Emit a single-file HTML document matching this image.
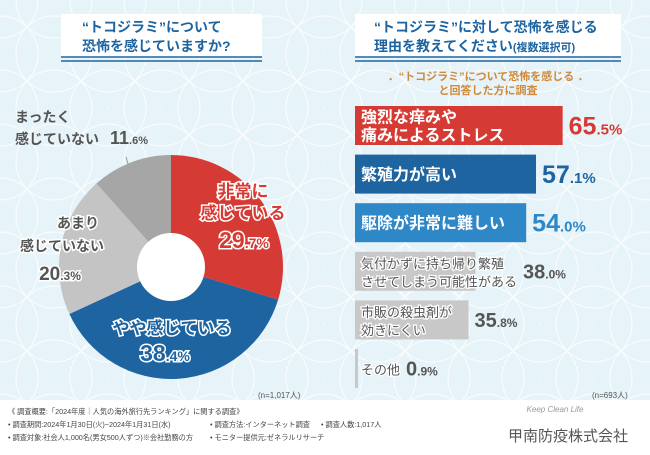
<!DOCTYPE html>
<html><head><meta charset="utf-8"><style>
body{margin:0;width:650px;height:450px;overflow:hidden;font-family:"Liberation Sans","Noto Sans CJK JP",sans-serif;}
svg text{font-family:"Liberation Sans","Noto Sans CJK JP",sans-serif;}
</style></head><body>
<svg id="c" width="650" height="450" xmlns="http://www.w3.org/2000/svg">
<defs>
<pattern id="shippo" x="0" y="0" width="54" height="54" patternUnits="userSpaceOnUse">
<g fill="none" stroke="#fff" stroke-width="1.2">
<circle cx="0" cy="0" r="38"/><circle cx="54" cy="0" r="38"/><circle cx="0" cy="54" r="38"/><circle cx="54" cy="54" r="38"/><circle cx="27" cy="27" r="38"/>
</g></pattern>
</defs>
<rect width="650" height="450" fill="#e6f3f8"/>
<rect width="650" height="400" fill="url(#shippo)" opacity="0.75"/>
<rect y="400" width="650" height="50" fill="#fff"/>

<g>
<rect x="61" y="14" width="201" height="44" fill="#fff"/>
<line x1="61" y1="57" x2="262" y2="57" stroke="#1e64a0" stroke-width="1.5"/>
<line x1="61" y1="61" x2="262" y2="61" stroke="#1e64a0" stroke-width="1.5"/>
<text x="82" y="32" font-size="14" font-weight="bold" fill="#1e64a0">“トコジラミ”について</text>
<text x="82" y="51" font-size="14" font-weight="bold" fill="#1e64a0">恐怖を感じていますか?</text>
</g>
<g>
<rect x="355" y="14" width="266" height="44" fill="#fff"/>
<line x1="355" y1="57" x2="621" y2="57" stroke="#1e64a0" stroke-width="1.5"/>
<line x1="355" y1="61" x2="621" y2="61" stroke="#1e64a0" stroke-width="1.5"/>
<text x="374" y="32" font-size="14" font-weight="bold" fill="#1e64a0">“トコジラミ”に対して恐怖を感じる</text>
<text x="374" y="51" font-size="14" font-weight="bold" fill="#1e64a0">理由を教えてください<tspan font-size="11">(複数選択可)</tspan></text>
</g>
<text x="488" y="80" font-size="11" font-weight="bold" fill="#d08a3a" text-anchor="middle">．“トコジラミ”について恐怖を感じる ．</text>
<text x="488" y="94" font-size="11" font-weight="bold" fill="#d08a3a" text-anchor="middle">と回答した方に調査</text>

<g id="pie"></g>
<g id="bars"></g>

<text x="258" y="398" font-size="8" fill="#555">(n=1,017人)</text>
<text x="592" y="398" font-size="8" fill="#555">(n=693人)</text>

<g font-size="7.2" fill="#444">
<text x="8" y="414">《 調査概要:「2024年度｜人気の海外旅行先ランキング」に関する調査》</text>
<text x="8" y="427">• 調査期間:2024年1月30日(火)~2024年1月31日(水)</text>
<text x="8" y="440">• 調査対象:社会人1,000名(男女500人ずつ)※会社勤務の方</text>
<text x="210" y="427">• 調査方法:インターネット調査</text>
<text x="210" y="440">• モニター提供元:ゼネラルリサーチ</text>
<text x="321" y="427">• 調査人数:1,017人</text>
</g>
<text x="555" y="412" font-size="8" font-style="italic" fill="#999" text-anchor="middle" font-family="Liberation Serif, serif">Keep Clean Life</text>
<text x="568" y="441" font-size="15" fill="#555" text-anchor="middle">甲南防疫株式会社</text>
</svg>
<script>
const pieLabels=["非常に感じている","やや感じている","あまり感じていない","まったく感じていない"];
const pieValues=[29.7,38.4,20.3,11.6];
const pieColors=["#d53b34","#1e64a0","#c4c4c4","#a6a6a6"];
const barLabels=[["強烈な痒みや","痛みによるストレス"],["繁殖力が高い"],["駆除が非常に難しい"],["気付かずに持ち帰り繁殖","させてしまう可能性がある"],["市販の殺虫剤が","効きにくい"],["その他"]];
const barValues=[65.5,57.1,54.0,38.0,35.8,0.9];
const barColors=["#d53b34","#1e64a0","#2e87c7","#c8c8c8","#c8c8c8","#c8c8c8"];
const NS="http://www.w3.org/2000/svg";
function mk(t,a,p){const e=document.createElementNS(NS,t);for(const k in a)e.setAttribute(k,a[k]);p.appendChild(e);return e;}
function fmt(v){return v.toFixed(1);}
const pg=document.getElementById('pie');
const pcx=171,pcy=267,R=112,r0=34;
const total=pieValues.reduce((a,b)=>a+b,0);
let ang=0;
function pt(a,rr){return [pcx+rr*Math.sin(a),pcy-rr*Math.cos(a)];}
pieValues.forEach((v,i)=>{
 const a0=ang/total*2*Math.PI;ang+=v;const a1=ang/total*2*Math.PI;
 const [sx,sy]=pt(a0,R),[ex,ey]=pt(a1,R);
 const large=(a1-a0)>Math.PI?1:0;
 const p=mk('path',{d:`M${pcx},${pcy}L${sx},${sy}A${R},${R} 0 ${large} 1 ${ex},${ey}Z`,fill:pieColors[i]},pg);
 
 
});
const hole=mk('circle',{cx:pcx,cy:pcy,r:r0,fill:'#fff'},pg);


function lbl(x,y,txt,size,fill,stroke,anchor,name){
 const t=mk('text',{x:x,y:y,'font-size':size,'font-weight':'bold',fill:fill,'text-anchor':anchor||'middle'},pg);
 if(stroke){t.setAttribute('stroke',stroke);t.setAttribute('stroke-width','3');t.setAttribute('paint-order','stroke');}
 t.innerHTML=txt;
 
 
 return t;}
function pct(v,small){const s=fmt(v).split('.');return `${s[0]}<tspan font-size="${small}">.${s[1]}%</tspan>`;}
lbl(243,197,"非常に",17,"#d53b34","#fff","middle","pie-label-1");
lbl(243,219,"感じている",17,"#d53b34","#fff","middle","pie-label-1b");
lbl(244,248,pct(pieValues[0],14),23,"#d53b34","#fff","middle","pie-value-1");
lbl(172,334,"やや感じている",17,"#1e64a0","#fff","middle","pie-label-2");
lbl(165,361,pct(pieValues[1],14),23,"#1e64a0","#fff","middle","pie-value-2");
lbl(78,228,"あまり",14,"#555","#fff","middle","pie-label-3");
lbl(62,251,"感じていない",14,"#555","#fff","middle","pie-label-3b");
lbl(60,280,pct(pieValues[2],12),19,"#555","#fff","middle","pie-value-3");
lbl(15,122,"まったく",14,"#555",null,"start","pie-label-4");
lbl(15,144,"感じていない",14,"#555",null,"start","pie-label-4b");
lbl(110,144,pct(pieValues[3],11),18,"#555",null,"start","pie-value-4");
mk('line',{x1:126,y1:157,x2:128,y2:164,stroke:'#999','stroke-width':1},pg);
const bg=document.getElementById('bars');
const barX=355,scale=3.17,barTop=106,step=48.6,bh=39;
barValues.forEach((v,i)=>{
 const y=barTop+i*step,w=Math.max(v*scale,3);
 const b=mk('rect',{x:barX,y:y,width:w,height:bh,fill:barColors[i]},bg);
 
 
 const light=i<3;
 const lines=barLabels[i];
 let labelEnd=barX+w;
 lines.forEach((L,j)=>{
  const ty=y+bh/2+(lines.length==1?6:(j==0?-3:15));
  const t=mk('text',{x:barX+6,y:ty,'font-size':light?16:13,'font-weight':light?'bold':'normal',fill:light?'#fff':'#555'},bg);
  if(!light){t.setAttribute('stroke','#fff');t.setAttribute('stroke-width','2.5');t.setAttribute('paint-order','stroke');}
  t.textContent=L;
  
  
  labelEnd=Math.max(labelEnd,barX+6+t.getComputedTextLength());
 });
 const big=light?25:20;
 const vt=mk('text',{x:labelEnd+6,y:y+bh/2+big*0.36,'font-size':big,'font-weight':'bold',fill:light?barColors[i]:'#555'},bg);
 vt.innerHTML=pct(v,big*0.6);
 
 
});
</script>
</body></html>
